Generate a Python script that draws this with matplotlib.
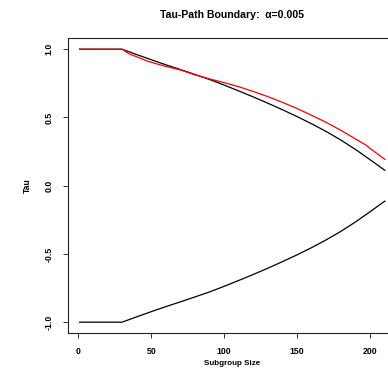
import matplotlib
matplotlib.use("Agg")
import matplotlib.pyplot as plt

plt.rcParams['font.family'] = ['Liberation Sans', 'DejaVu Sans']
plt.rcParams['font.weight'] = 'bold'

# Subgroup sizes and tau-path boundary values
subgroup_size = [1, 30, 40, 50, 60, 70, 80, 90, 100, 110, 120, 130, 140,
                 150, 160, 170, 180, 190, 200, 210]
upper_bound = [1.0, 1.0, 0.961, 0.923, 0.886, 0.851, 0.815, 0.778, 0.737,
               0.694, 0.650, 0.604, 0.556, 0.506, 0.453, 0.396, 0.334,
               0.265, 0.190, 0.113]
lower_bound = [-v for v in upper_bound]

observed_size = [1, 30, 35, 40, 48, 60, 70, 80, 90, 100, 110, 120, 130, 140,
                 150, 160, 170, 180, 190, 197, 200, 210]
observed_tau = [1.0, 1.0, 0.965, 0.945, 0.910, 0.874, 0.848, 0.812, 0.782,
                0.755, 0.725, 0.690, 0.652, 0.610, 0.565, 0.515, 0.463,
                0.405, 0.342, 0.298, 0.272, 0.193]

x_ticks = [0, 50, 100, 150, 200]
y_ticks = [-1.0, -0.5, 0.0, 0.5, 1.0]
y_tick_labels = ["-1.0", "-0.5", "0.0", "0.5", "1.0"]

W, H = 388, 377
fig = plt.figure(figsize=(W / 100, H / 100), dpi=100)
left, right, top, bottom = 67.5, 397.0, 38.3, 333.1
ax = fig.add_axes([left / W, 1 - bottom / H, (right - left) / W, (bottom - top) / H])

ax.plot(subgroup_size, upper_bound, color='black', lw=0.9)
ax.plot(subgroup_size, lower_bound, color='black', lw=0.9)
ax.plot(observed_size, observed_tau, color='#ff0000', lw=0.9)

xr = 210 - 1
ax.set_xlim(1 - 0.04 * xr, 210 + 0.04 * xr)
ax.set_ylim(-1.08, 1.08)

ax.set_xticks(x_ticks)
ax.set_xticklabels([str(t) for t in x_ticks], fontsize=6.3, fontweight='bold')
ax.set_yticks(y_ticks)
ax.set_yticklabels(y_tick_labels, fontsize=6.3, fontweight='bold',
                   rotation=90, va='center')
ax.tick_params(axis='both', direction='out', length=3.6, width=0.7,
               color='#333333', pad=6.2)

for s in ax.spines.values():
    s.set_linewidth(0.8)
    s.set_color('#222222')

ax.set_xlabel("Subgroup Size", fontsize=5.8, fontweight='bold')
ax.xaxis.set_label_coords(232 / W, 1 - 360 / H, transform=fig.transFigure)
ax.set_ylabel("Tau", fontsize=6.2, fontweight='bold')
ax.yaxis.set_label_coords(31.5 / W, 1 - 185.7 / H, transform=fig.transFigure)

fig.text(232 / W, 1 - 15 / H, "Tau-Path Boundary:  \u03b1=0.005",
         ha='center', va='center', fontsize=7.6, fontweight='bold')

fig.savefig("out.png", dpi=100)
